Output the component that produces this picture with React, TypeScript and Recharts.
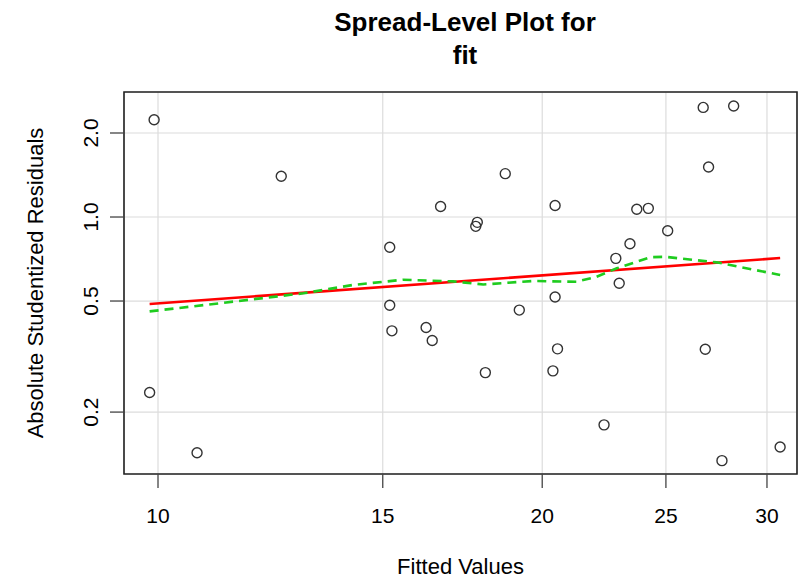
import React from "react";
import { ComposedChart, Scatter, XAxis, YAxis, CartesianGrid, ReferenceArea, Label } from "recharts";

// fitted values and absolute studentized residuals
const fitted = [
  9.93, 12.49, 16.65, 15.19, 26.74, 28.25, 27.0, 18.71, 20.47, 23.72, 24.22,
  17.79, 17.74, 25.08, 23.43, 22.84, 22.98, 15.19, 15.25, 16.22, 16.4, 9.85,
  10.73, 20.47, 19.19, 20.56, 18.05, 20.39, 26.84, 22.36, 27.66, 30.72,
];
const residuals = [
  2.23, 1.4, 1.09, 0.779, 2.47, 2.5, 1.51, 1.43, 1.1, 1.066, 1.074,
  0.957, 0.926, 0.893, 0.802, 0.711, 0.579, 0.483, 0.391, 0.402, 0.361, 0.235,
  0.143, 0.517, 0.464, 0.337, 0.277, 0.281, 0.336, 0.18, 0.134, 0.15,
];

// robust fit line (endpoints)
const fitX = [9.85, 30.72];
const fitY = [0.488, 0.713];

// lowess smooth
const smoothX = [9.85, 11.18, 13.0, 14.22, 15.56, 17.03, 17.98, 19.68, 21.27, 22.06, 22.88, 24.31, 24.97, 27.4, 30.72];
const smoothY = [0.459, 0.491, 0.533, 0.571, 0.596, 0.588, 0.573, 0.59, 0.586, 0.611, 0.655, 0.718, 0.72, 0.688, 0.62];

const xTicks = [10, 15, 20, 25, 30];
const yTicks = [0.2, 0.5, 1.0, 2.0];
const yTickLabels = ["0.2", "0.5", "1.0", "2.0"];

const X_DOMAIN: [number, number] = [9.405, 31.67];
const Y_DOMAIN: [number, number] = [0.12, 2.805];

const points = fitted.map((x, i) => ({ x, y: residuals[i] }));
const fitLine = fitX.map((x, i) => ({ x, y: fitY[i] }));
const smoothLine = smoothX.map((x, i) => ({ x, y: smoothY[i] }));

const FONT = "'Liberation Sans', Arial, Helvetica, sans-serif";

const OpenCircle = (props: any) => (
  <circle cx={props.cx} cy={props.cy} r={5} fill="none" stroke="#333" strokeWidth={1.4} />
);

const NoDot = () => <g />;

const YTick = (props: any) => {
  const { x, y, payload } = props;
  const i = yTicks.indexOf(payload.value);
  return (
    <text
      x={x}
      y={y}
      transform={`rotate(-90, ${x}, ${y})`}
      textAnchor="middle"
      dominantBaseline="central"
      fontSize={21}
      fontFamily={FONT}
      fill="#000"
    >
      {i >= 0 ? yTickLabels[i] : payload.value}
    </text>
  );
};

export default function App() {
  return (
    <div style={{ position: "absolute", left: 0, top: 0, width: 808, height: 579, background: "#fff", fontFamily: FONT }}>
      <div style={{ position: "absolute", left: 0, width: 930, top: 6, textAlign: "center", fontWeight: "bold", fontSize: 26, lineHeight: "33px", color: "#000" }}>
        Spread-Level Plot for
        <br />
        fit
      </div>
      <ComposedChart width={808} height={579} margin={{ top: 92, right: 11, bottom: 0, left: 0 }}>
        <CartesianGrid stroke="#dcdcdc" strokeWidth={1.2} />
        <XAxis
          dataKey="x"
          type="number"
          scale="log"
          domain={X_DOMAIN}
          allowDataOverflow
          ticks={xTicks}
          height={105}
          axisLine={false}
          tickSize={14}
          tickMargin={20}
          tickLine={{ stroke: "#444", strokeWidth: 1.3 }}
          tick={{ fontSize: 21, fill: "#000", fontFamily: FONT }}
        >
          <Label value="Fitted Values" position="insideBottom" offset={5} style={{ fontSize: 22, fill: "#000", fontFamily: FONT }} />
        </XAxis>
        <YAxis
          dataKey="y"
          type="number"
          scale="log"
          domain={Y_DOMAIN}
          allowDataOverflow
          ticks={yTicks}
          width={124}
          axisLine={false}
          tickSize={14}
          tickMargin={19}
          tickLine={{ stroke: "#444", strokeWidth: 1.3 }}
          tick={<YTick />}
        >
          <Label
            value="Absolute Studentized Residuals"
            angle={-90}
            position="insideLeft"
            offset={35}
            style={{ fontSize: 22, fill: "#000", fontFamily: FONT, textAnchor: "middle" }}
          />
        </YAxis>
        <Scatter data={points} shape={<OpenCircle />} isAnimationActive={false} />
        <Scatter
          data={fitLine}
          line={{ stroke: "#ff0000", strokeWidth: 2.6 }}
          shape={<NoDot />}
          isAnimationActive={false}
        />
        <Scatter
          data={smoothLine}
          line={{ stroke: "#1fcc1f", strokeWidth: 2.6, strokeDasharray: "9 6" }}
          lineType="joint"
          shape={<NoDot />}
          isAnimationActive={false}
        />
        <ReferenceArea
          x1={X_DOMAIN[0]}
          x2={X_DOMAIN[1]}
          y1={Y_DOMAIN[0]}
          y2={Y_DOMAIN[1]}
          fill="none"
          stroke="#222"
          strokeWidth={1.6}
          ifOverflow="extendDomain"
        />
      </ComposedChart>
    </div>
  );
}
